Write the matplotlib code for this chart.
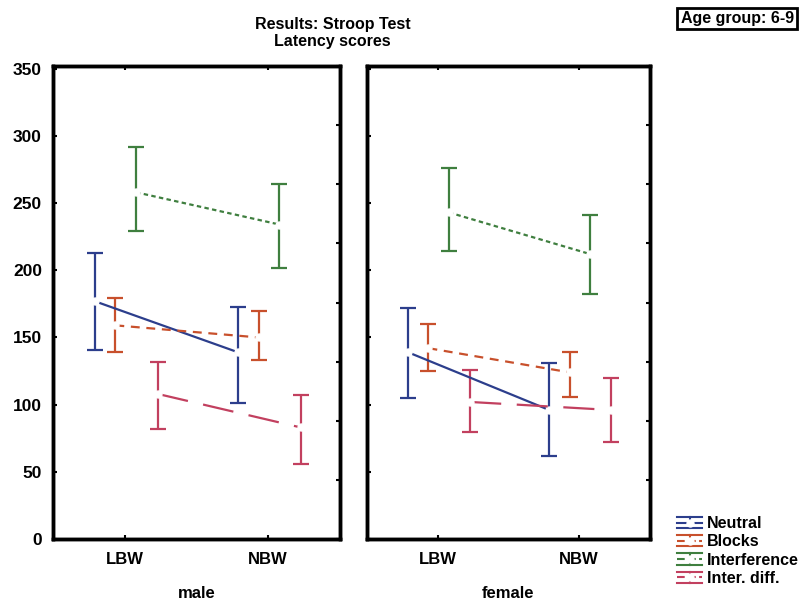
import numpy as np
import matplotlib
matplotlib.use("Agg")
import matplotlib.pyplot as plt
from matplotlib.lines import Line2D
from matplotlib.legend_handler import HandlerBase

plt.rcParams['font.family'] = ['Liberation Sans', 'DejaVu Sans']
plt.rcParams['font.weight'] = 'bold'

groups = ["LBW", "NBW"]
series = ["Neutral", "Blocks", "Interference", "Inter. diff."]
panels = ["male", "female"]

# means and error-bar limits, one row per series (LBW, NBW)
male_mean = [[177, 139], [159, 150], [258, 234], [108, 83]]
male_lo = [[141, 101], [139, 133], [229, 202], [82, 56]]
male_hi = [[213, 173], [179, 170], [292, 264], [132, 107]]

female_mean = [[139, 96], [142, 124], [243, 212], [102, 96]]
female_lo = [[105, 62], [125, 106], [214, 182], [80, 72]]
female_hi = [[172, 131], [160, 139], [276, 241], [126, 120]]

colors = ["#2c3e8c", "#c8502c", "#3f7f3f", "#c2405f"]
styles = ["-", (0, (4, 3)), (0, (2, 1.5)), (0, (14, 7))]
offsets = [-0.21, -0.065, 0.08, 0.23]


class ErrIcon(HandlerBase):
    # little error-bar icon: cap line, dashed mean line with white marker, cap line
    def create_artists(self, legend, orig, xd, yd, w, h, fontsize, trans):
        c = orig.get_color()
        mid = h / 2 - yd
        arts = []
        for dy, ls in [(4, '-'), (0, orig.get_linestyle()), (-4, '-')]:
            ln = Line2D([-xd, -xd + w], [mid + dy, mid + dy], color=c, lw=1.5, linestyle=ls)
            ln.set_transform(trans)
            arts.append(ln)
        vl = Line2D([-xd + w / 2] * 2, [mid - 4, mid + 4], color=c, lw=1.5)
        vl.set_transform(trans)
        mk = Line2D([-xd + w / 2], [mid], marker='o', ms=5, mfc='white', mec='white', lw=0)
        mk.set_transform(trans)
        arts += [vl, mk]
        return arts


fig = plt.figure(figsize=(8.03, 6.05), dpi=100)
ax1 = fig.add_axes([0.066, 0.109, 0.357, 0.782])
ax2 = fig.add_axes([0.457, 0.109, 0.352, 0.782])

x = np.arange(len(groups))
for ax, name, mean, lo, hi in [(ax1, "male", male_mean, male_lo, male_hi),
                                (ax2, "female", female_mean, female_lo, female_hi)]:
    for i in range(len(series)):
        m = np.array(mean[i])
        yerr = [m - np.array(lo[i]), np.array(hi[i]) - m]
        ax.errorbar(x + offsets[i], m, yerr=yerr, color=colors[i], linestyle=styles[i],
                    lw=1.6, elinewidth=1.6, capsize=6, capthick=1.6,
                    marker='o', ms=5, mfc='white', mec='white')
    ax.set_xlim(-0.5, 1.5)
    ax.set_ylim(0, 352)
    ax.set_xticks(x)
    ax.set_xticklabels(groups, fontsize=12, fontweight='bold')
    ax.set_yticks(np.arange(0, 351, 50))
    ax.set_xlabel(name, fontsize=12, fontweight='bold', labelpad=14)
    ax.tick_params(direction='in', length=3, width=1.5, top=True, pad=9)
    for s in ax.spines.values():
        s.set_linewidth(2.5)
    tw = ax.twinx()
    tw.set_ylim(0, 8)
    tw.set_yticks(np.arange(0, 9))
    tw.tick_params(direction='in', length=3, width=1.5, labelright=False)
    for s in tw.spines.values():
        s.set_linewidth(2.5)

ax1.tick_params(axis='y', labelsize=12.5, pad=8)
for lbl in ax1.get_yticklabels():
    lbl.set_fontweight('bold')
ax2.set_yticklabels([])

fig.text(0.414, 0.959, "Results: Stroop Test", ha='center', va='center', fontsize=11.5, fontweight='bold')
fig.text(0.414, 0.931, "Latency scores", ha='center', va='center', fontsize=11.5, fontweight='bold')
fig.text(0.918, 0.969, "Age group: 6-9", ha='center', va='center', fontsize=11.5, fontweight='bold',
         bbox=dict(boxstyle='square,pad=0.2', fc='white', ec='black', lw=2))

handles = [Line2D([0], [0], color=colors[i], linestyle=styles[i]) for i in range(len(series))]
fig.legend(handles, series, loc='lower left', bbox_to_anchor=(0.825, 0.008), frameon=False,
           handlelength=1.6, handletextpad=0.3, labelspacing=0.2,
           handler_map={Line2D: ErrIcon()},
           prop={'weight': 'bold', 'size': 11.5})

fig.savefig("out.png", dpi=100)
